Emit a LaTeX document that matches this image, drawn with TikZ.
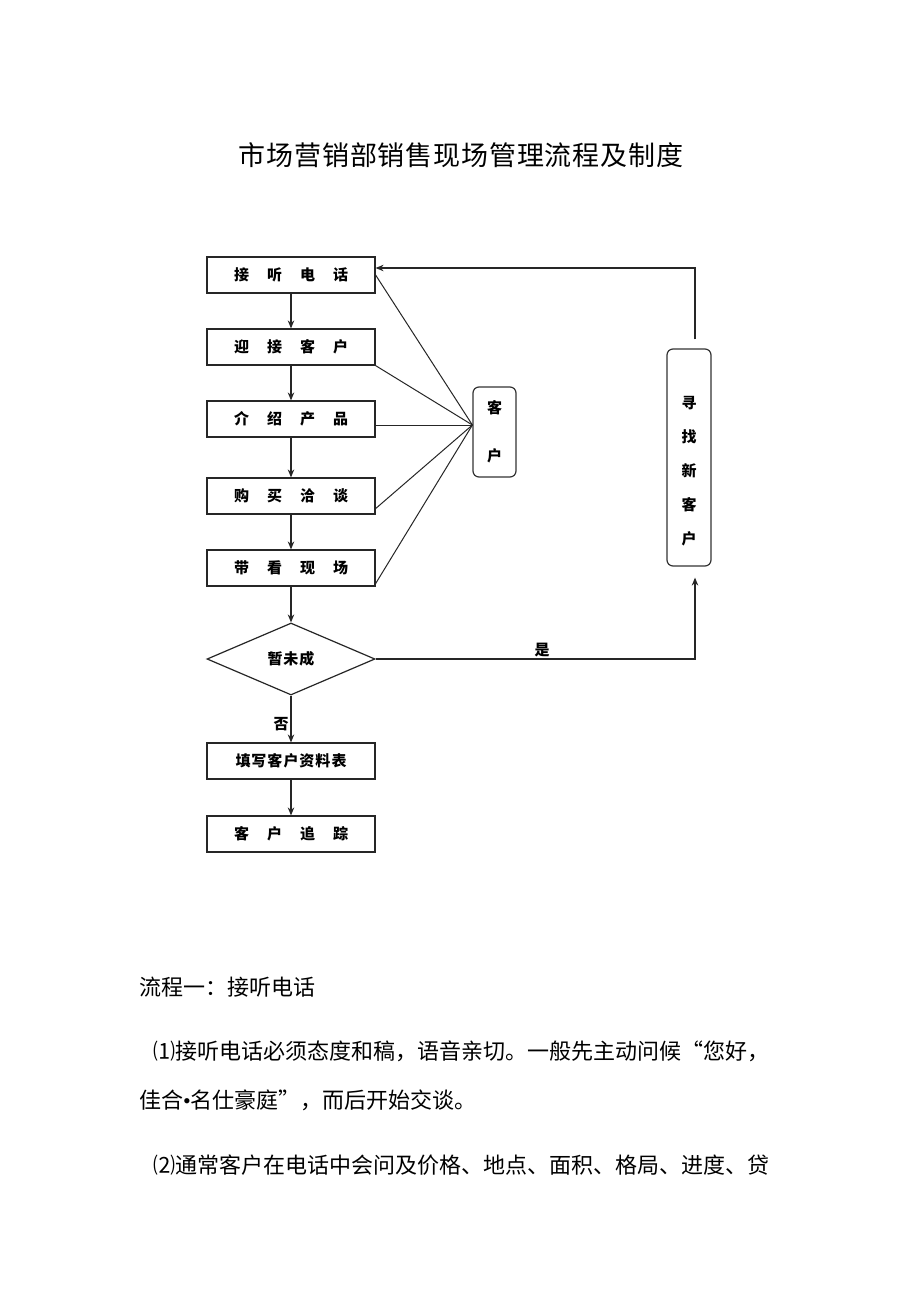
\documentclass[tikz,border=0pt]{standalone}
\usepackage{fontspec}
\usetikzlibrary{shapes.geometric,arrows.meta,calc}
\newfontfamily\cjk{Noto Sans CJK SC}
\newfontfamily\cjkt{Noto Sans CJK SC}[LetterSpace=3]
\newfontfamily\latn{Liberation Serif}
\newcommand\kgap{\hspace{18pt}}
\begin{document}
\begin{tikzpicture}[x=1pt,y=-1pt,
  every node/.style={font=\cjk},
  proc/.style={draw=black!85, line width=1.2pt, minimum width=168pt, minimum height=36pt, inner sep=0pt, font=\cjk\bfseries\fontsize{15}{17}\selectfont},
  decide/.style={draw=black!85, line width=1.2pt, diamond, aspect=2.33, minimum width=168pt, minimum height=72pt, inner sep=0pt, font=\cjk\bfseries\fontsize{15}{17}\selectfont},
  rbox/.style={draw=black!80, line width=1.2pt, rounded corners=6pt, inner sep=0pt},
  lbl/.style={font=\cjk\bfseries\fontsize{15}{17}\selectfont, align=center, inner sep=0pt},
  yn/.style={font=\cjk\bfseries\fontsize{15}{17}\selectfont, inner sep=0pt},
  body/.style={font=\cjk\fontsize{22}{26}\selectfont, anchor=west, inner sep=0pt},
  arr/.style={-{Stealth[length=8pt,width=6.5pt]}, line width=1.1pt, draw=black!85},
  ln/.style={line width=1pt, draw=black!85}]
\fill[white] (0,0) rectangle (920,1301);
\node[font=\cjkt\fontsize{27}{30}\selectfont, inner sep=0pt] (title) at (461,155) {市场营销部销售现场管理流程及制度};
% process column
\node[proc] (b1) at (291,275) {接\kgap 听\kgap 电\kgap 话};
\node[proc] (b2) at (291,347) {迎\kgap 接\kgap 客\kgap 户};
\node[proc] (b3) at (291,419) {介\kgap 绍\kgap 产\kgap 品};
\node[proc] (b4) at (291,496) {购\kgap 买\kgap 洽\kgap 谈};
\node[proc] (b5) at (291,568) {带\kgap 看\kgap 现\kgap 场};
\node[decide] (d) at (291,659) {暂\hspace{1pt}未\hspace{1pt}成};
\node[proc] (b6) at (291,761) {填\hspace{1pt}写\hspace{1pt}客\hspace{1pt}户\hspace{1pt}资\hspace{1pt}料\hspace{1pt}表};
\node[proc] (b7) at (291,834) {客\kgap 户\kgap 追\kgap 踪};
% customer box
\node[rbox, minimum width=43pt, minimum height=90pt] (cust) at (494.5,432) {};
\node[lbl] (custtext) at (cust.center) {客\\[31pt]户};
% find new customer box
\node[rbox, minimum width=44pt, minimum height=217pt] (xin) at (689,457.5) {};
\node[lbl] (xintext) at (689,471) {寻\\[17pt]找\\[17pt]新\\[17pt]客\\[17pt]户};
% vertical arrows
\draw[arr] (b1) -- (b2);
\draw[arr] (b2) -- (b3);
\draw[arr] (b3) -- (b4);
\draw[arr] (b4) -- (b5);
\draw[arr] (b5) -- (d);
\draw[arr] (d) -- (b6);
\draw[arr] (b6) -- (b7);
% fan to customer
\coordinate (cp) at ($(cust.west)+(0,-7)$);
\draw[ln] (b1.east) -- (cp);
\draw[ln] (b2.south east) -- (cp);
\draw[ln] (b3.east |- cp) -- (cp);
\draw[ln] ($(b4.south east)+(0,-6)$) -- (cp);
\draw[ln] ($(b5.south east)+(0,-3)$) -- (cp);
% loops
\coordinate (xt) at ($(xin.north)+(6,-9)$);
\coordinate (xb) at ($(xin.south)+(6,11)$);
\draw[arr] (xt) |- ($(b1.east)+(0,-7)$);
\draw[arr] (d.east) -| (xb);
\node[yn] (yes) at (542,650) {是};
\node[yn] (no) at (281,724) {否};
% body text
\node[body] (p0) at (139,987) {流程一：接听电话};
\node[body] (p1) at (153,1051) {⑴接听电话必须态度和稿，语音亲切。一般先主动问候“您好，};
\node[body] (p2) at (139,1100) {佳合{\latn •}名仕豪庭”，而后开始交谈。};
\node[body] (p3) at (153,1165) {⑵通常客户在电话中会问及价格、地点、面积、格局、进度、贷};
\end{tikzpicture}
\end{document}
